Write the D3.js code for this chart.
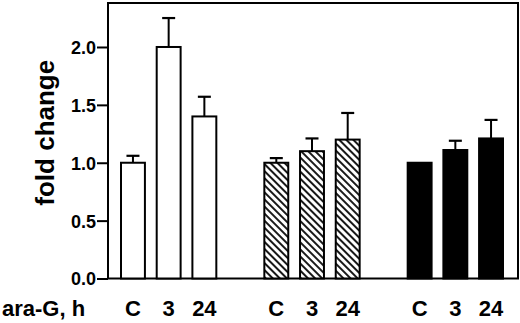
<!DOCTYPE html>
<html>
<head>
<meta charset="utf-8">
<script src="https://cdn.jsdelivr.net/npm/d3@7"></script>
<style>
  html, body { margin: 0; padding: 0; background: #fff; }
  svg { display: block; font-family: "Liberation Sans", Arial, Helvetica, sans-serif; font-weight: bold; }
</style>
</head>
<body>
<div id="chart"></div>
<script>
const GROUPS = ["open", "hatched", "solid"];
const CONDITIONS = ["C", "3", "24"];
const OPEN_VALUES = [1.0, 2.0, 1.4];
const OPEN_ERRORS = [0.06, 0.25, 0.17];
const HATCHED_VALUES = [1.0, 1.1, 1.2];
const HATCHED_ERRORS = [0.04, 0.11, 0.23];
const SOLID_VALUES = [1.0, 1.11, 1.21];
const SOLID_ERRORS = [0, 0.08, 0.16];
const Y_TICKS = [0, 0.5, 1.0, 1.5, 2.0];

const seriesValues = { open: OPEN_VALUES, hatched: HATCHED_VALUES, solid: SOLID_VALUES };
const seriesErrors = { open: OPEN_ERRORS, hatched: HATCHED_ERRORS, solid: SOLID_ERRORS };

const rows = GROUPS.flatMap((group) =>
  CONDITIONS.map((cond, i) => ({
    group,
    cond,
    value: seriesValues[group][i],
    error: seriesErrors[group][i],
  })),
);

const width = 520;
const height = 323;
const frame = { left: 108, right: 518, top: 3, bottom: 278.5 };

const svg = d3.select("#chart").append("svg").attr("width", width).attr("height", height);

const defs = svg.append("defs");
const hatch = defs
  .append("pattern")
  .attr("id", "hatch")
  .attr("patternUnits", "userSpaceOnUse")
  .attr("width", 5)
  .attr("height", 5)
  .attr("patternTransform", "rotate(-45)");
hatch.append("rect").attr("width", 5).attr("height", 5).attr("fill", "#fff");
hatch.append("line").attr("x1", 1).attr("x2", 1).attr("y1", 0).attr("y2", 5).attr("stroke", "#000").attr("stroke-width", 1.8);

const y = d3.scaleLinear().domain([0, 2.38]).range([frame.bottom, frame.top]);
const x0 = d3.scaleBand().domain(GROUPS).range([121, 503]).paddingInner(0.335).paddingOuter(0);
const x1 = d3.scaleBand().domain(CONDITIONS).range([0, x0.bandwidth()]).paddingInner(0.33).paddingOuter(0);

const fills = { open: "#fff", hatched: "url(#hatch)", solid: "#000" };

// frame
svg
  .append("rect")
  .attr("x", frame.left)
  .attr("y", frame.top)
  .attr("width", frame.right - frame.left)
  .attr("height", frame.bottom - frame.top)
  .attr("fill", "none")
  .attr("stroke", "#000")
  .attr("stroke-width", 2);

// y axis
svg
  .append("g")
  .attr("transform", `translate(${frame.left}, 0)`)
  .call(d3.axisLeft(y).tickValues(Y_TICKS).tickFormat(d3.format(".1f")).tickSize(11).tickPadding(1))
  .call((g) => g.select(".domain").remove())
  .call((g) => g.selectAll("line").attr("stroke", "#000").attr("stroke-width", 2))
  .call((g) => g.selectAll("text").attr("font-size", 18).attr("font-weight", "bold").attr("font-family", "Liberation Sans, Arial, sans-serif").attr("fill", "#000").attr("dy", "0.36em"));

svg
  .append("text")
  .attr("transform", `translate(54, ${(frame.top + frame.bottom) / 2 - 8}) rotate(-90)`)
  .attr("text-anchor", "middle")
  .attr("font-size", 26)
  .text("fold change");

// error bars
const errRows = rows.filter((d) => d.error > 0);
const cx = (d) => x0(d.group) + x1(d.cond) + x1.bandwidth() / 2;

svg
  .append("g")
  .selectAll("line")
  .data(errRows)
  .join("line")
  .attr("x1", cx)
  .attr("x2", cx)
  .attr("y1", (d) => y(d.value))
  .attr("y2", (d) => y(d.value + d.error))
  .attr("stroke", "#000")
  .attr("stroke-width", 2);

svg
  .append("g")
  .selectAll("line")
  .data(errRows)
  .join("line")
  .attr("x1", (d) => cx(d) - 6.5)
  .attr("x2", (d) => cx(d) + 6.5)
  .attr("y1", (d) => y(d.value + d.error))
  .attr("y2", (d) => y(d.value + d.error))
  .attr("stroke", "#000")
  .attr("stroke-width", 2.2);

// bars
svg
  .append("g")
  .selectAll("rect")
  .data(rows)
  .join("rect")
  .attr("x", (d) => x0(d.group) + x1(d.cond))
  .attr("y", (d) => y(d.value))
  .attr("width", x1.bandwidth())
  .attr("height", (d) => y(0) - y(d.value))
  .attr("fill", (d) => fills[d.group])
  .attr("stroke", "#000")
  .attr("stroke-width", 2);

// x labels
GROUPS.forEach((group) => {
  svg
    .append("g")
    .attr("transform", `translate(${x0(group)}, 300)`)
    .call(d3.axisBottom(x1).tickSize(0).tickPadding(0))
    .call((g) => g.select(".domain").remove())
    .call((g) => g.selectAll("text").attr("font-size", 22).attr("font-weight", "bold").attr("font-family", "Liberation Sans, Arial, sans-serif").attr("fill", "#000").attr("dy", "0.72em"));
});

svg
  .append("text")
  .attr("x", 2)
  .attr("y", 316)
  .attr("font-size", 22)
  .text("ara-G, h");
</script>
</body>
</html>
